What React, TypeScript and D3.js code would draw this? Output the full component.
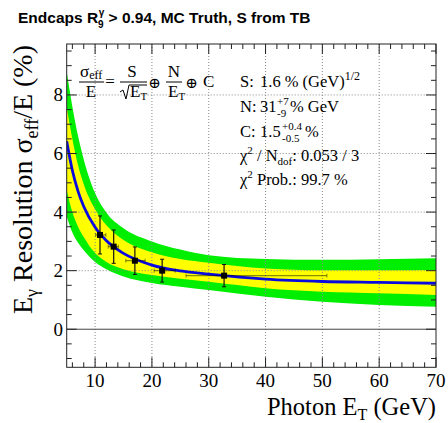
import React from 'react';
import * as d3 from 'd3';

// Fit curve and confidence bands
const fitX = [5, 6, 7, 8, 10, 12, 15, 20, 25, 30, 40, 50, 60, 70];
const fitY = [6.42, 5.42, 4.71, 4.19, 3.48, 3.02, 2.59, 2.19, 1.99, 1.88, 1.71, 1.63, 1.6, 1.57];
const band1Lo = [4.75, 4.0, 3.5, 3.15, 2.6, 2.3, 2.05, 1.85, 1.72, 1.62, 1.4, 1.28, 1.23, 1.17];
const band1Hi = [7.6, 6.5, 5.6, 4.95, 4.1, 3.55, 3.05, 2.63, 2.4, 2.27, 2.07, 2.01, 2.01, 2.02];
const band2Lo = [3.85, 3.3, 2.95, 2.7, 2.3, 2.05, 1.8, 1.58, 1.45, 1.34, 1.11, 0.94, 0.83, 0.77];
const band2Hi = [8.8, 7.6, 6.6, 5.8, 4.65, 3.98, 3.45, 3.0, 2.72, 2.53, 2.4, 2.37, 2.39, 2.42];

// Data points
const ptX = [10.86, 13.27, 17.0, 21.8, 32.7];
const ptY = [3.22, 2.82, 2.34, 2.0, 1.83];
const ptXLo = [10.1, 12.3, 15.4, 20.4, 26.0];
const ptXHi = [11.9, 14.1, 18.8, 24.1, 50.8];
const ptYErr = [0.65, 0.57, 0.47, 0.39, 0.38];

const xMajor = [10, 20, 30, 40, 50, 60, 70];
const yMajor = [0, 2, 4, 6, 8];

const W = 448, H = 423;
const L = 66.7, R = 436, T = 44, B = 367.3;

export default function App() {
  const x = d3.scaleLinear().domain([5, 70]).range([L, R]);
  const y = d3.scaleLinear().domain([-1.3, 9.74]).range([B, T]);

  const xMinor = d3.range(6, 70.01, 2).filter((v) => v % 10 !== 0);
  const yMinor = d3.range(-1, 9.51, 0.5).filter((v) => Math.abs(v % 2) > 1e-6);

  const idx = fitX.map((_, i) => i);
  const area = (lo: number[], hi: number[]) =>
    d3.area<number>().x((i) => x(fitX[i])).y0((i) => y(lo[i])).y1((i) => y(hi[i])).curve(d3.curveMonotoneX)(idx) || '';
  const fitLine = d3.line<number>().x((i) => x(fitX[i])).y((i) => y(fitY[i])).curve(d3.curveMonotoneX)(idx) || '';

  const serif = "'Liberation Serif', 'Times New Roman', serif";
  const grid = '#888';

  return (
    <svg width={W} height={H} style={{ position: 'absolute', left: 0, top: 0, background: '#fff' }} fontFamily={serif}>
      <defs>
        <clipPath id="plot"><rect x={L} y={T} width={R - L} height={B - T} /></clipPath>
      </defs>
      <text x={18} y={23} fontFamily="'Liberation Sans', Arial, sans-serif" fontWeight="bold" fontSize={15.5} fill="#000">
        Endcaps R<tspan fontSize={10} dy={5}>9</tspan><tspan fontSize={10} dx={-5} dy={-12}>γ</tspan>
        <tspan dy={7}> &gt; 0.94, MC Truth, S from TB</tspan>
      </text>

      <g clipPath="url(#plot)">
        <path d={area(band2Lo, band2Hi)} fill="#00ee00" />
        <path d={area(band1Lo, band1Hi)} fill="#ffff00" />
        {xMajor.filter((v) => v < 70).map((v) => (
          <line key={'gx' + v} x1={x(v)} x2={x(v)} y1={T} y2={B} stroke={grid} strokeDasharray="1,2" />
        ))}
        {yMajor.filter((v) => v > 0).map((v) => (
          <line key={'gy' + v} x1={L} x2={R} y1={y(v)} y2={y(v)} stroke={grid} strokeDasharray="1,2" />
        ))}
        <line x1={L} x2={R} y1={y(0)} y2={y(0)} stroke="#444" strokeWidth={1} />
        <path d={fitLine} fill="none" stroke="#0a0ae0" strokeWidth={2.8} />
        {ptX.map((px, i) => (
          <g key={'p' + i}>
            <line x1={x(ptXLo[i])} x2={x(ptXHi[i])} y1={y(ptY[i])} y2={y(ptY[i])} stroke="rgba(0,0,0,0.45)" strokeWidth={1.2} />
            <line x1={x(ptXLo[i])} x2={x(ptXLo[i])} y1={y(ptY[i]) - 2} y2={y(ptY[i]) + 2} stroke="rgba(0,0,0,0.45)" />
            <line x1={x(ptXHi[i])} x2={x(ptXHi[i])} y1={y(ptY[i]) - 2} y2={y(ptY[i]) + 2} stroke="rgba(0,0,0,0.45)" />
            <line x1={x(px)} x2={x(px)} y1={y(ptY[i] - ptYErr[i])} y2={y(ptY[i] + ptYErr[i])} stroke="#111" strokeWidth={1.2} />
            <line x1={x(px) - 2} x2={x(px) + 2} y1={y(ptY[i] - ptYErr[i])} y2={y(ptY[i] - ptYErr[i])} stroke="#111" />
            <line x1={x(px) - 2} x2={x(px) + 2} y1={y(ptY[i] + ptYErr[i])} y2={y(ptY[i] + ptYErr[i])} stroke="#111" />
            <rect x={x(px) - 3} y={y(ptY[i]) - 3} width={6} height={6} fill="#000" />
          </g>
        ))}
      </g>

      {/* frame and ticks */}
      <rect x={L} y={T} width={R - L} height={B - T} fill="none" stroke="#222" strokeWidth={1} />
      {xMajor.map((v) => (
        <g key={'xt' + v}>
          <line x1={x(v)} x2={x(v)} y1={B} y2={B - 10} stroke="#222" />
          <line x1={x(v)} x2={x(v)} y1={T} y2={T + 10} stroke="#222" />
          <text x={x(v)} y={387} textAnchor="middle" fontSize={19}>{v}</text>
        </g>
      ))}
      {xMinor.map((v) => (
        <g key={'xm' + v}>
          <line x1={x(v)} x2={x(v)} y1={B} y2={B - 5} stroke="#222" />
          <line x1={x(v)} x2={x(v)} y1={T} y2={T + 5} stroke="#222" />
        </g>
      ))}
      {yMajor.map((v) => (
        <g key={'yt' + v}>
          <line x1={L} x2={L + 10} y1={y(v)} y2={y(v)} stroke="#222" />
          <line x1={R} x2={R - 10} y1={y(v)} y2={y(v)} stroke="#222" />
          <text x={63} y={y(v) + 6.5} textAnchor="end" fontSize={19}>{v}</text>
        </g>
      ))}
      {yMinor.map((v) => (
        <g key={'ym' + v}>
          <line x1={L} x2={L + 5} y1={y(v)} y2={y(v)} stroke="#222" />
          <line x1={R} x2={R - 5} y1={y(v)} y2={y(v)} stroke="#222" />
        </g>
      ))}

      {/* axis titles */}
      <text x={R} y={415} textAnchor="end" fontSize={24.5}>
        Photon E<tspan fontSize={16} dy={5}>T</tspan><tspan dy={-5}> (GeV)</tspan>
      </text>
      <text transform={`translate(32,${T + 1}) rotate(-90)`} textAnchor="end" fontSize={28}>
        E<tspan fontSize={18} dy={6}>γ</tspan><tspan dy={-6}> Resolution σ</tspan>
        <tspan fontSize={18} dy={6}>eff</tspan><tspan dy={-6}>/E (%)</tspan>
      </text>

      {/* formula */}
      <g fontSize={17}>
        <text x={80} y={77}>σ<tspan fontSize={12} dy={2}>eff</tspan></text>
        <line x1={79} x2={104} y1={82} y2={82} stroke="#000" />
        <text x={91} y={97} textAnchor="middle">E</text>
        <text x={110} y={87} textAnchor="middle">=</text>
        <text x={132} y={77} textAnchor="middle">S</text>
        <line x1={120} x2={147} y1={82} y2={82} stroke="#000" />
        <path d="M120,92 L123,90 L126,99 L129,85 L147,85" fill="none" stroke="#000" />
        <text x={130} y={97}>E<tspan fontSize={11} dy={3}>T</tspan></text>
        <text x={154.5} y={88} textAnchor="middle" fontFamily="'DejaVu Serif', serif" fontSize={15}>⊕</text>
        <text x={174} y={77} textAnchor="middle">N</text>
        <line x1={166} x2={182} y1={82} y2={82} stroke="#000" />
        <text x={168} y={97}>E<tspan fontSize={11} dy={3}>T</tspan></text>
        <text x={191.5} y={88} textAnchor="middle" fontFamily="'DejaVu Serif', serif" fontSize={15}>⊕</text>
        <text x={203} y={87}>C</text>
      </g>

      {/* fit results */}
      <g fontSize={16.5}>
        <text x={240} y={87}>S:</text>
        <text x={260} y={87}>1.6 % (GeV)<tspan fontSize={12} dy={-7}>1/2</tspan></text>
        <text x={240} y={112}>N:</text>
        <text x={260} y={112}>31</text>
        <text x={277} y={105} fontSize={11}>+7</text>
        <text x={277} y={117} fontSize={11}>-9</text>
        <text x={290} y={112}>% GeV</text>
        <text x={240} y={137}>C:</text>
        <text x={260} y={137}>1.5</text>
        <text x={282} y={130} fontSize={11}>+0.4</text>
        <text x={282} y={142} fontSize={11}>-0.5</text>
        <text x={305} y={137}>%</text>
        <text x={240} y={161}>χ<tspan fontSize={11} dy={-7}>2</tspan><tspan dy={7}> / N</tspan><tspan fontSize={11} dy={4}>dof</tspan><tspan dy={-4}>: 0.053 / 3</tspan></text>
        <text x={240} y={185}>χ<tspan fontSize={11} dy={-7}>2</tspan><tspan dy={7}> Prob.: 99.7 %</tspan></text>
      </g>
    </svg>
  );
}
